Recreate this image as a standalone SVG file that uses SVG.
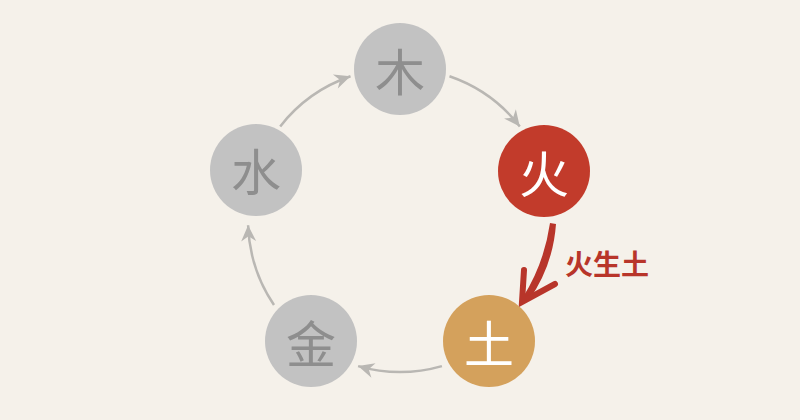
<svg xmlns="http://www.w3.org/2000/svg" width="800" height="420" viewBox="0 0 800 420">
<defs>
<style>
.bg{fill:#f5f1ea}
.gray{fill:#c2c2c2}
.fire{fill:#c23b2b}
.earth{fill:#d4a15c}
.glyph{font-family:"Noto Sans CJK SC","Noto Sans CJK JP",sans-serif;font-size:50px;text-anchor:middle;dominant-baseline:central;font-weight:400}
.gt{fill:#8e8e8e}
.wt{fill:#ffffff}
.arc{fill:none;stroke:#b9b7b3;stroke-width:2.5}
.label{font-family:"Noto Sans CJK SC","Noto Sans CJK JP",sans-serif;font-size:28px;font-weight:700;fill:#b8352a}
</style>
<marker id="ah" viewBox="-17 -8 18 16" refX="0" refY="0" markerWidth="18" markerHeight="16" markerUnits="userSpaceOnUse" orient="auto">
<path d="M0,0 L-16,-7.5 L-11,0 L-16,7.5 Z" fill="#b9b7b3"/>
</marker>
</defs>
<rect class="bg" x="0" y="0" width="800" height="420"/>
<g id="connectors">
<path class="arc" d="M280.2,126.4 A152,152 0 0 1 350.5,76.3" marker-end="url(#ah)"/>
<path class="arc" d="M449.5,76.3 A152,152 0 0 1 519.8,126.4" marker-end="url(#ah)"/>
<path class="arc" d="M441.9,366.1 A152,152 0 0 1 358.1,366.1" marker-end="url(#ah)"/>
<path class="arc" d="M274.0,305.0 A152,152 0 0 1 248.1,225.3" marker-end="url(#ah)"/>
<g id="fire-to-earth">
<path d="M550,223 L556,224 Q553,266 529,300 L523,297 Q544,264 550,223 Z" fill="#b8352a"/>
<path d="M524,270 L522,302 L555,284" fill="none" stroke="#b8352a" stroke-width="6" stroke-linejoin="miter" stroke-linecap="round"/>
</g>
<text class="label" x="565" y="263" dominant-baseline="central">火生土</text>
</g>
<g id="node-wood"><circle class="gray" cx="400" cy="69" r="46"/><text class="glyph gt" x="400" y="69">木</text></g>
<g id="node-fire"><circle class="fire" cx="544" cy="171" r="46"/><text class="glyph wt" x="544" y="171">火</text></g>
<g id="node-earth"><circle class="earth" cx="489" cy="341" r="46"/><text class="glyph wt" x="489" y="341">土</text></g>
<g id="node-metal"><circle class="gray" cx="311" cy="341" r="46"/><text class="glyph gt" x="311" y="341">金</text></g>
<g id="node-water"><circle class="gray" cx="256" cy="170" r="46"/><text class="glyph gt" x="256" y="169">水</text></g>
</svg>
